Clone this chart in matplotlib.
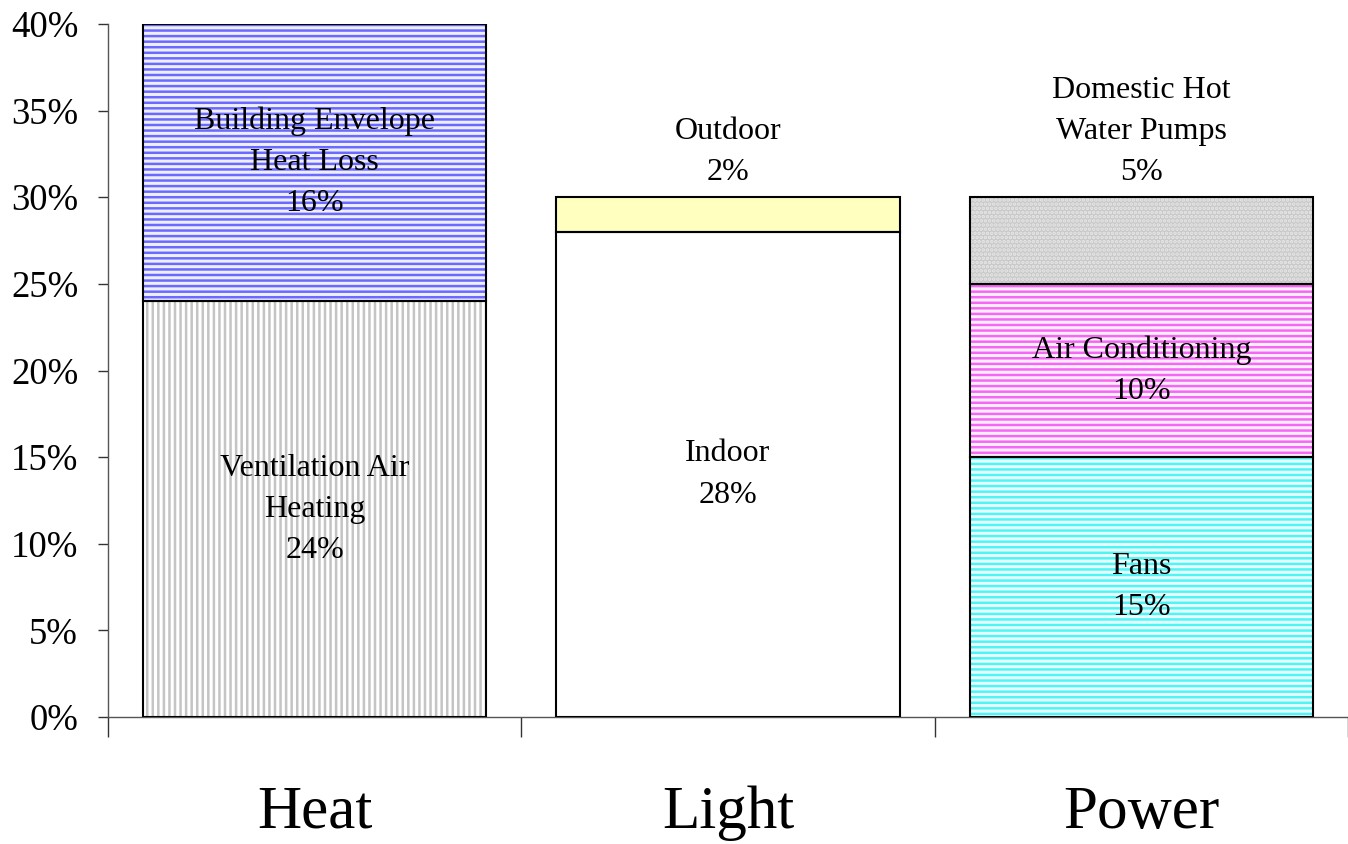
import matplotlib
matplotlib.use('Agg')
import matplotlib.pyplot as plt
from matplotlib.ticker import FuncFormatter, FixedLocator

# Share of energy use by end use, stacked per category
categories = ['Heat', 'Light', 'Power']
heat_labels = ['Ventilation Air\nHeating', 'Building Envelope\nHeat Loss']
heat_values = [24, 16]
light_labels = ['Indoor', 'Outdoor']
light_values = [28, 2]
power_labels = ['Fans', 'Air Conditioning', 'Domestic Hot\nWater Pumps']
power_values = [15, 10, 5]

# face colour, hatch colour, hatch pattern for each segment
heat_styles = [('white', '#c4c4c4', '|||'), ('#eeeeff', '#6a6aff', '---')]
light_styles = [('white', 'white', None), ('#ffffc0', '#ffffc0', None)]
power_styles = [('#e8ffff', '#50f4f4', '---'), ('#ffeeff', '#f468f4', '---'),
                ('#c8c8c8', '#e8e8e8', '....')]

plt.rcParams['font.family'] = ['Liberation Serif', 'DejaVu Serif']
plt.rcParams['hatch.linewidth'] = 1.8

fig = plt.figure(figsize=(13.48, 8.44), dpi=100)
ax = fig.add_axes([108 / 1348, 127 / 844, 1240 / 1348, 693 / 844])

bar_width = 0.83
groups = [(heat_labels, heat_values, heat_styles),
          (light_labels, light_values, light_styles),
          (power_labels, power_values, power_styles)]

for i, (labels, values, styles) in enumerate(groups):
    x = i + 0.5
    bottom = 0
    for label, val, (face, hcol, hatch) in zip(labels, values, styles):
        ax.bar(x, val, bottom=bottom, width=bar_width, color=face,
               edgecolor=hcol, hatch=hatch, linewidth=0, zorder=2)
        ax.bar(x, val, bottom=bottom, width=bar_width, fill=False,
               edgecolor='black', linewidth=1.5, zorder=3)
        if val >= 8:
            y = bottom + val / 2
            va = 'center'
        else:
            y = bottom + val + 0.6
            va = 'bottom'
        ax.text(x, y, f'{label}\n{val}%', ha='center', va=va, fontsize=23,
                linespacing=1.55, zorder=4)
        bottom += val

ax.set_xlim(0, 3)
ax.set_ylim(0, 40)
ax.set_yticks(range(0, 41, 5))
ax.yaxis.set_major_formatter(FuncFormatter(lambda v, p: f'{v:.0f}%'))
ax.tick_params(axis='y', labelsize=26.5, length=7.5, width=1, pad=14, color='#333333')

ax.set_xticks([0.5, 1.5, 2.5])
ax.set_xticklabels(categories)
ax.xaxis.set_minor_locator(FixedLocator([0, 1, 2, 3]))
ax.tick_params(axis='x', which='major', length=0, labelsize=44, pad=49)
ax.tick_params(axis='x', which='minor', length=14.5, width=1, color='#333333')

for side in ['top', 'right']:
    ax.spines[side].set_visible(False)
for side in ['left', 'bottom']:
    ax.spines[side].set_color('#555555')
    ax.spines[side].set_linewidth(1)

fig.savefig('out.png', dpi=100)
